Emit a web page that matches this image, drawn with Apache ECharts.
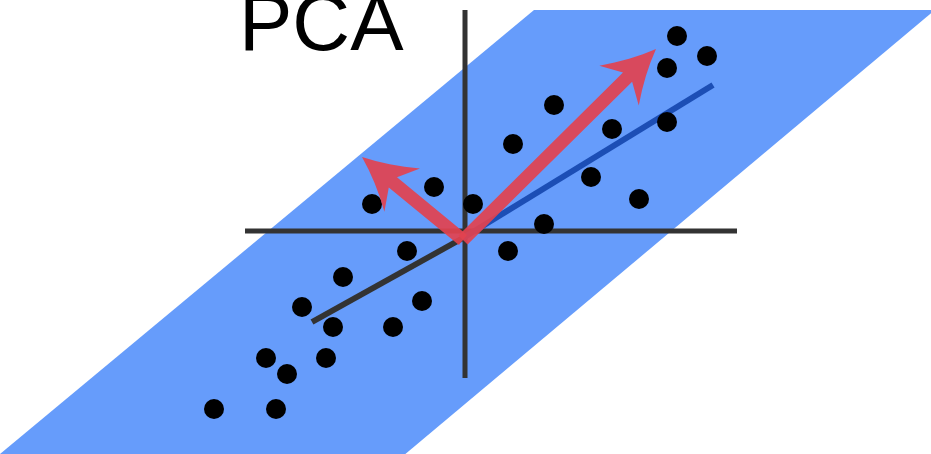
<!DOCTYPE html>
<html>
<head>
<meta charset="utf-8">
<title>PCA</title>
<script src="https://cdn.jsdelivr.net/npm/echarts@6/dist/echarts.min.js"></script>
<style>
    html, body { margin: 0; padding: 0; background: #fff; }
    #chart { width: 931px; height: 454px; }
</style>
</head>
<body>
<div id="chart"></div>
<script>
// plane corners, axes and data, all in picture units (y grows downward)
var plane = [[534, 10], [935, 10], [403, 456], [0, 456], [0, 454]];
var axisH = [[245, 231], [737, 231]];
var axisV = [[465, 10], [465, 378]];
var pcLow = [[312, 322], [463, 238]];
var pcHigh = [[463, 238], [713, 85]];
var origin = [463, 240];
var arrowTips = [[656, 49], [362, 157]];
var points = [
    [677, 36], [707, 56], [667, 68], [554, 105], [612, 129], [667, 122],
    [513, 144], [591, 177], [639, 199], [434, 187], [372, 204], [473, 204],
    [544, 224], [407, 251], [508, 251], [343, 277], [302, 307], [422, 301],
    [333, 327], [393, 327], [266, 358], [287, 374], [326, 358], [214, 409],
    [276, 409]
];

var dom = document.getElementById('chart');
var myChart = echarts.init(dom);

function renderPlane(params, api) {
    var pts = plane.map(function (p) { return api.coord(p); });
    return {
        type: 'polygon',
        shape: { points: pts },
        style: { fill: '#669cfb' }
    };
}

// arrow = shaft + head with slightly concave sides
function renderArrow(params, api) {
    var s = api.coord(origin);
    var t = api.coord([api.value(0), api.value(1)]);
    var dx = t[0] - s[0], dy = t[1] - s[1];
    var len = Math.sqrt(dx * dx + dy * dy);
    var u = [dx / len, dy / len];
    var n = [-u[1], u[0]];
    var w = 6.5, L = 52, W = 28, notch = 40;
    function at(base, a, b) {
        return [base[0] + u[0] * a + n[0] * b, base[1] + u[1] * a + n[1] * b];
    }
    var pts = [
        at(s, 0, w),
        at(t, -notch, w),
        at(t, -L, W),
        at(t, -39, 19.5),
        at(t, -26, 12),
        at(t, -13, 5.5),
        t,
        at(t, -13, -5.5),
        at(t, -26, -12),
        at(t, -39, -19.5),
        at(t, -L, -W),
        at(t, -notch, -w),
        at(s, 0, -w)
    ];
    return {
        type: 'polygon',
        shape: { points: pts },
        style: { fill: '#e2424f', opacity: 0.92 }
    };
}

var option = {
    animation: false,
    grid: { left: 0, right: 0, top: 0, bottom: 0 },
    xAxis: { type: 'value', min: 0, max: 931, show: false },
    yAxis: { type: 'value', min: 0, max: 454, inverse: true, show: false },
    graphic: [{
        type: 'text',
        left: 239,
        top: -12,
        style: {
            text: 'PCA',
            fontSize: 80,
            fontFamily: 'Liberation Sans, Arial, sans-serif',
            fill: '#000'
        },
        z: 100
    }],
    series: [
        {
            type: 'custom',
            renderItem: renderPlane,
            data: [0],
            clip: true,
            z: 1
        },
        {
            type: 'line',
            data: axisH,
            symbol: 'none',
            lineStyle: { color: '#333', width: 5 },
            z: 2
        },
        {
            type: 'line',
            data: axisV,
            symbol: 'none',
            lineStyle: { color: '#333', width: 5 },
            z: 2
        },
        {
            type: 'line',
            data: pcLow,
            symbol: 'none',
            lineStyle: { color: '#333', width: 6 },
            z: 3
        },
        {
            type: 'line',
            data: pcHigh,
            symbol: 'none',
            lineStyle: { color: '#1c4eb5', width: 6 },
            z: 3
        },
        {
            type: 'scatter',
            data: points,
            symbolSize: 20,
            itemStyle: { color: '#000', opacity: 1 },
            z: 4
        },
        {
            type: 'custom',
            renderItem: renderArrow,
            data: arrowTips,
            z: 5
        }
    ]
};
myChart.setOption(option, true);
</script>
</body>
</html>
